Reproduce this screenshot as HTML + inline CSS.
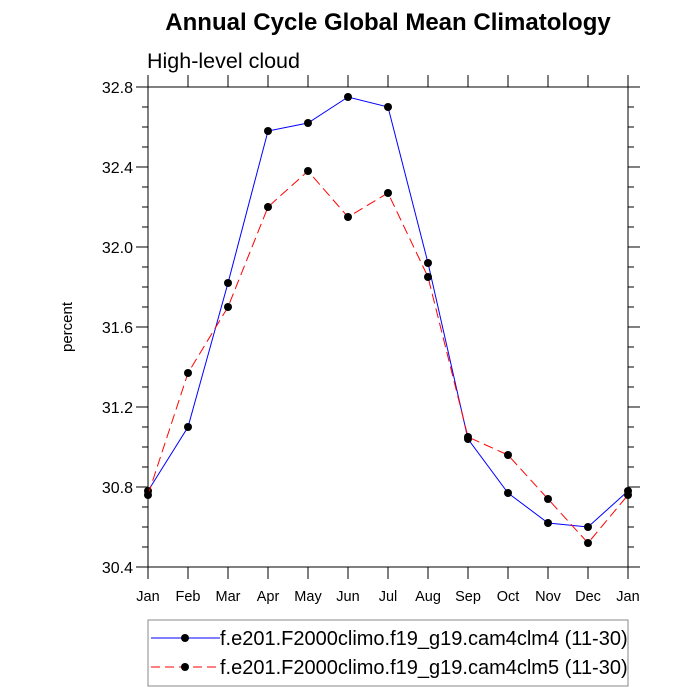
<!DOCTYPE html>
<html><head><meta charset="utf-8"><style>
body{margin:0;background:#fff}
svg{display:block;font-family:"Liberation Sans",sans-serif}
</style></head><body>
<svg id="c" width="700" height="700">
<text x="388" y="30" font-size="24" font-weight="bold" text-anchor="middle">Annual Cycle Global Mean Climatology</text>
<text x="147" y="68" font-size="21.5">High-level cloud</text>
<text transform="translate(72,327) rotate(-90)" font-size="15" text-anchor="middle">percent</text>
<g id="axes"></g><g id="series"></g>
<rect x="148" y="620" width="480" height="66" fill="none" stroke="#888" stroke-width="1"/>
<g>
<line x1="151" y1="638" x2="220" y2="638" stroke="#00f"/><circle cx="185" cy="638" r="4" fill="#000"/>
<text x="220" y="645" font-size="20">f.e201.F2000climo.f19_g19.cam4clm4 (11-30)</text></g>
<g>
<line x1="151" y1="667" x2="220" y2="667" stroke="#f00" stroke-dasharray="9,5"/><circle cx="185" cy="667" r="4" fill="#000"/>
<text x="220" y="674" font-size="20">f.e201.F2000climo.f19_g19.cam4clm5 (11-30)</text></g>
</svg>
<script>
const months=["Jan","Feb","Mar","Apr","May","Jun","Jul","Aug","Sep","Oct","Nov","Dec","Jan"];
const clm4=[30.78,31.10,31.82,32.58,32.62,32.75,32.70,31.92,31.04,30.77,30.62,30.60,30.78];
const clm5=[30.76,31.37,31.70,32.20,32.38,32.15,32.27,31.85,31.05,30.96,30.74,30.52,30.76];
const yTicks=["30.4","30.8","31.2","31.6","32.0","32.4","32.8"];
const L=148,R=628,T=87,B=567,ymin=30.4,ymax=32.8;
const X=i=>L+i*(R-L)/(months.length-1);
const Y=v=>B-(v-ymin)/(ymax-ymin)*(B-T);
const NS="http://www.w3.org/2000/svg";
function mk(t,a,p){const e=document.createElementNS(NS,t);for(const k in a)e.setAttribute(k,a[k]);p.appendChild(e);return e;}
const ax=document.getElementById('axes'),se=document.getElementById('series');
const fr=mk('rect',{x:L,y:T,width:R-L,height:B-T,fill:'none',stroke:'#000'},ax);


months.forEach((m,i)=>{const x=X(i);
mk('line',{x1:x,y1:B,x2:x,y2:B+12,stroke:'#000'},ax);
mk('line',{x1:x,y1:T,x2:x,y2:T-12,stroke:'#000'},ax);
const t=mk('text',{x:x,y:B+34,'font-size':14.5,'text-anchor':'middle'},ax);t.textContent=m;

});
for(let v=ymin;v<=ymax+1e-9;v+=0.1){const y=Y(v);const maj=Math.abs(Math.round(v*10)%4)===0;const l=maj?12:6;
mk('line',{x1:L,y1:y,x2:L-l,y2:y,stroke:'#000'},ax);
mk('line',{x1:R,y1:y,x2:R+l,y2:y,stroke:'#000'},ax);}
yTicks.forEach(s=>{const t=mk('text',{x:L-15,y:Y(+s)+6,'font-size':16,'text-anchor':'end'},ax);t.textContent=s;

});
function draw(d,col,dash,name){
const pl=mk('polyline',{points:d.map((v,i)=>X(i)+','+Y(v)).join(' '),fill:'none',stroke:col,'stroke-dasharray':dash},se);


d.forEach((v,i)=>{const c=mk('circle',{cx:X(i),cy:Y(v),r:4,fill:'#000'},se);

});}
draw(clm4,'#00f','none','clm4');
draw(clm5,'#f00','10,5','clm5');
</script>
</body></html>
